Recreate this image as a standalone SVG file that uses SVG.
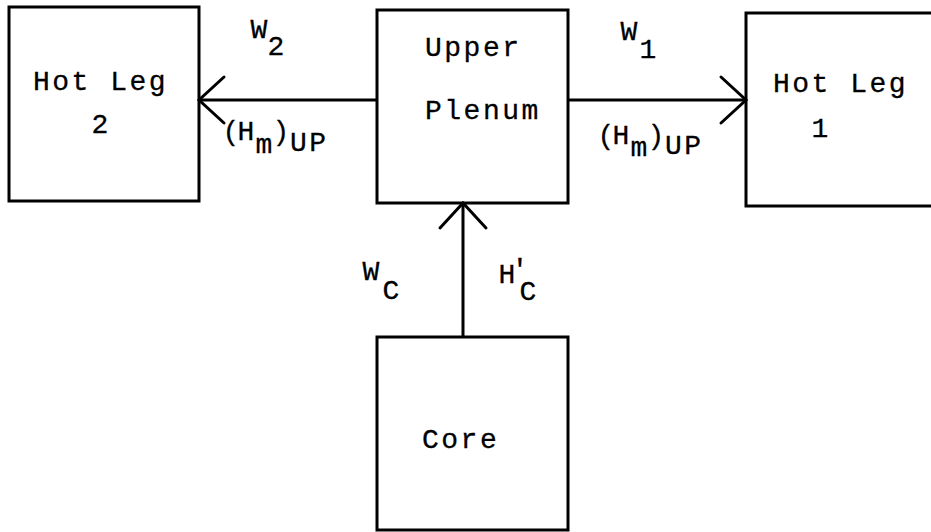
<svg xmlns="http://www.w3.org/2000/svg" width="931" height="532" viewBox="0 0 931 532">
<style>
.box{fill:none;stroke:#000;stroke-width:3}
.line{fill:none;stroke:#000;stroke-width:3}
.t{font-family:"Liberation Mono","Courier New",monospace;font-size:28px;fill:#000;stroke:#000;stroke-width:0.3;letter-spacing:2.5px}
.c{text-anchor:middle;letter-spacing:0}
</style>
<defs>
<marker id="vee" markerUnits="userSpaceOnUse" viewBox="-30 -30 36 60" refX="0" refY="0" markerWidth="36" markerHeight="60" orient="auto" overflow="visible">
<path d="M-25,-23 L0,0 L-25,23" fill="none" stroke="#000" stroke-width="3" stroke-linecap="round"/>
</marker>
</defs>
<rect width="931" height="532" fill="#fff"/>
<g id="connectors">
<line class="line" x1="377" y1="100" x2="199" y2="100" marker-end="url(#vee)"/>
<line class="line" x1="568" y1="100" x2="746" y2="100" marker-end="url(#vee)"/>
<line class="line" x1="463" y1="337" x2="463" y2="203" marker-end="url(#vee)"/>
<text class="t c" x="259" y="38">W</text>
<text class="t c" x="276" y="55">2</text>
<text class="t c" x="629" y="40">W</text>
<text class="t c" x="648" y="58">1</text>
<text class="t c" x="231" y="140">(</text>
<text class="t c" x="246" y="140">H</text>
<text class="t c" x="264" y="153">m</text>
<text class="t c" x="281" y="140">)</text>
<text class="t" x="290" y="151">UP</text>
<text class="t c" x="606" y="144">(</text>
<text class="t c" x="621" y="144">H</text>
<text class="t c" x="639" y="156">m</text>
<text class="t c" x="656" y="144">)</text>
<text class="t" x="665" y="154">UP</text>
<text class="t c" x="371" y="280">W</text>
<text class="t c" x="391" y="299">C</text>
<text class="t c" x="507" y="283">H</text>
<text class="t c" x="520" y="278">'</text>
<text class="t c" x="528" y="300">C</text>
</g>
<g id="hot-leg-2">
<rect class="box" x="9" y="7" width="190" height="194"/>
<text class="t" x="33" y="90">Hot Leg</text>
<text class="t c" x="100" y="133">2</text>
</g>
<g id="upper-plenum">
<rect class="box" x="377" y="10" width="191" height="193"/>
<text class="t" x="425" y="56">Upper</text>
<text class="t" x="425" y="119">Plenum</text>
</g>
<g id="hot-leg-1">
<path class="box" d="M935,13 H746 V206 H935"/>
<text class="t" x="773" y="92">Hot Leg</text>
<text class="t c" x="820" y="137">1</text>
</g>
<g id="core">
<rect class="box" x="377" y="337" width="191" height="193"/>
<text class="t" x="422" y="448">Core</text>
</g>
</svg>
